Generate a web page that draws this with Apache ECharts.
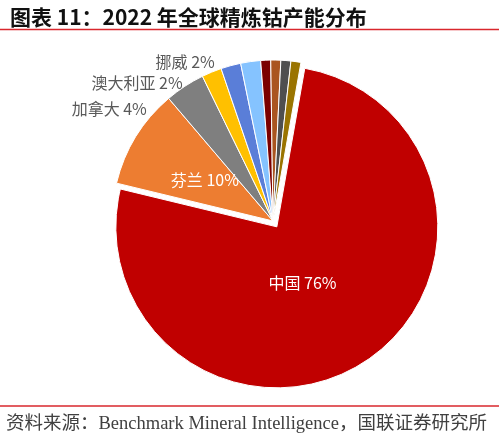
<!DOCTYPE html>
<html>
<head>
<meta charset="utf-8">
<script src="https://cdn.jsdelivr.net/npm/echarts@6/dist/echarts.min.js"></script>
<style>
html,body{margin:0;padding:0;background:#fff;}
#chart{width:499px;height:437px;}
</style>
</head>
<body>
<div id="chart"></div>
<script>
// 2022 refined cobalt capacity share, clockwise from the top
var countries = ['中国', '芬兰', '加拿大', '澳大利亚', '挪威', '', '', '', '', ''];
var shares = [76, 10, 4, 2, 2, 2, 1, 1, 1, 1];
var sliceColors = ['#C00000', '#ED7D31', '#7F7F7F', '#FFC000', '#5A7ED8', '#85C3FF', '#7B0000', '#AA5520', '#4F4F4F', '#9A7400'];
// nudges for the labels, as the source moved them by hand
var labelShift = [[-20, -14], [3, 3], [-33, 23], [-24, 11], [-11, -4], [0, 0], [0, 0], [0, 0], [0, 0], [0, 0]];

var pieData = [];
for (var i = 0; i < shares.length; i++) {
    var inside = i < 2;
    pieData.push({
        name: countries[i],
        value: shares[i],
        selected: i === 0,
        itemStyle: {color: sliceColors[i]},
        label: {
            show: countries[i] !== '',
            position: inside ? 'inside' : 'outside',
            color: inside ? '#fff' : '#595959',
            align: inside ? 'center' : 'right'
        }
    });
}

var myChart = echarts.init(document.getElementById('chart'), null, {renderer: 'canvas'});
myChart.setOption({
    animation: false,
    title: {
        text: '图表 11：2022 年全球精炼钴产能分布',
        left: 5,
        top: 2,
        textStyle: {fontFamily: 'Noto Sans CJK SC', fontWeight: 'bold', fontSize: 21, color: '#111'}
    },
    graphic: [
        {type: 'line', shape: {x1: 0, y1: 29.5, x2: 499, y2: 29.5}, style: {stroke: '#D9272D', lineWidth: 1.5}},
        {type: 'line', shape: {x1: 0, y1: 406, x2: 499, y2: 406}, style: {stroke: '#D9272D', lineWidth: 1.5}},
        {
            type: 'text', left: 6, top: 415,
            style: {
                text: '资料来源：Benchmark Mineral Intelligence，国联证券研究所',
                font: '18.5px "Liberation Serif", "Noto Sans CJK SC"',
                fill: '#404040'
            }
        }
    ],
    series: [{
        type: 'pie',
        center: [273, 221],
        radius: [0, 161],
        startAngle: 80,
        clockwise: true,
        selectedMode: 'single',
        selectedOffset: 7,
        avoidLabelOverlap: false,
        silent: true,
        itemStyle: {borderColor: '#fff', borderWidth: 1},
        label: {
            formatter: '{b} {c}%',
            fontFamily: 'Noto Sans CJK SC',
            fontSize: 16,
            rotate: 0,
            distanceToLabelLine: 5
        },
        labelLine: {show: false, length: 0, length2: 0},
        labelLayout: function (params) {
            return {dx: labelShift[params.dataIndex][0], dy: labelShift[params.dataIndex][1]};
        },
        emphasis: {disabled: true},
        data: pieData
    }]
});
</script>
</body>
</html>
